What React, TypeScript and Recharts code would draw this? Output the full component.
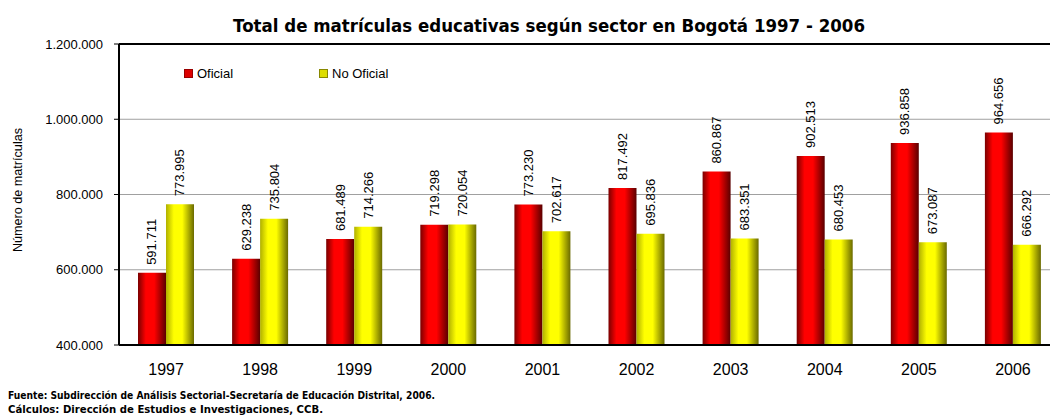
import React from "react";
import {
  BarChart,
  Bar,
  XAxis,
  YAxis,
  CartesianGrid,
  LabelList,
  Legend,
  ReferenceLine,
} from "recharts";

const years = ["1997", "1998", "1999", "2000", "2001", "2002", "2003", "2004", "2005", "2006"];
const oficial = [591711, 629238, 681489, 719298, 773230, 817492, 860867, 902513, 936858, 964656];
const noOficial = [773995, 735804, 714266, 720054, 702617, 695836, 683351, 680453, 673087, 666292];
const yTicks = [400000, 600000, 800000, 1000000, 1200000];
const seriesNames = ["Oficial", "No Oficial"];
const seriesKeys = ["oficial", "noOficial"];
const legendFill: Record<string, string> = { oficial: "#dd0000", noOficial: "#dddd00" };
const legendBorder: Record<string, string> = { oficial: "#990000", noOficial: "#888800" };

const titleText = "Total de matrículas educativas según sector en Bogotá 1997 - 2006";
const yAxisTitle = "Número de matrículas";
const footer1 = "Fuente: Subdirección de Análisis Sectorial-Secretaría de Educación Distrital, 2006.";
const footer2 = "Cálculos: Dirección de Estudios e Investigaciones, CCB.";

const data = years.map((y, i) => ({ year: y, oficial: oficial[i], noOficial: noOficial[i] }));

const fmt = (v: number) => v.toString().replace(/\B(?=(\d{3})+(?!\d))/g, ".");

const FONT = "Arial, 'Liberation Sans', sans-serif";

const ValueLabel = (props: any) => {
  const { x, y, width, value } = props;
  const cx = Number(x) + Number(width) / 2;
  const ty = Number(y) - 8;
  return (
    <text
      x={cx}
      y={ty}
      transform={`rotate(-90, ${cx}, ${ty})`}
      textAnchor="start"
      dominantBaseline="central"
      fontFamily={FONT}
      fontSize={13}
      fill="#000"
    >
      {fmt(Number(value))}
    </text>
  );
};

const LegendContent = (props: any) => {
  const payload = [...(props.payload || [])].sort(
    (a: any, b: any) => seriesKeys.indexOf(a.dataKey) - seriesKeys.indexOf(b.dataKey)
  );
  return (
    <div style={{ display: "flex", fontFamily: FONT, fontSize: 13, color: "#000" }}>
      {payload.map((p: any, i: number) => (
        <div key={i} style={{ display: "flex", alignItems: "center", width: 135 }}>
          <span
            style={{
              display: "inline-block",
              width: 9,
              height: 9,
              background: legendFill[p.dataKey],
              border: "1px solid " + legendBorder[p.dataKey],
              boxSizing: "border-box",
              marginRight: 4,
            }}
          />
          <span>{p.value}</span>
        </div>
      ))}
    </div>
  );
};

export default function App() {
  return (
    <div
      style={{
        position: "fixed",
        left: 0,
        top: 0,
        width: 1050,
        height: 416,
        overflow: "hidden",
        background: "#fff",
      }}
    >
      <BarChart
        width={1060}
        height={416}
        data={data}
        margin={{ top: 44, right: 0, left: 0, bottom: 0 }}
        barCategoryGap={19}
        barGap={0}
      >
        <defs>
          <linearGradient id="gRed" x1="0" y1="0" x2="1" y2="0">
            <stop offset="0%" stopColor="#7a0000" />
            <stop offset="28%" stopColor="#ff0000" />
            <stop offset="58%" stopColor="#ff0000" />
            <stop offset="100%" stopColor="#5a0000" />
          </linearGradient>
          <linearGradient id="gYel" x1="0" y1="0" x2="1" y2="0">
            <stop offset="0%" stopColor="#b0b000" />
            <stop offset="28%" stopColor="#ffff00" />
            <stop offset="58%" stopColor="#ffff00" />
            <stop offset="100%" stopColor="#6a6a00" />
          </linearGradient>
        </defs>
        <CartesianGrid horizontal vertical={false} stroke="#a0a0a0" strokeWidth={1} />
        <ReferenceLine y={1200000} stroke="#000" strokeWidth={2} />
        <XAxis
          dataKey="year"
          height={71}
          axisLine={{ stroke: "#000", strokeWidth: 2 }}
          tickLine={false}
          tickSize={0}
          tickMargin={19}
          tick={{ fontFamily: FONT, fontSize: 16, fill: "#000" }}
          interval={0}
        />
        <YAxis
          width={119}
          domain={[400000, 1200000]}
          ticks={yTicks}
          allowDataOverflow
          axisLine={{ stroke: "#000", strokeWidth: 2 }}
          tickLine={{ stroke: "#000" }}
          tickSize={5}
          tickMargin={11}
          tickFormatter={(v: number) => fmt(v)}
          tick={{ fontFamily: FONT, fontSize: 13, fill: "#000" }}
        />
        <Legend
          layout="horizontal"
          verticalAlign="middle"
          align="center"
          wrapperStyle={{ position: "absolute", top: 66, left: 184, width: 320, height: 18 }}
          content={LegendContent}
        />
        <Bar dataKey="oficial" name={seriesNames[0]} fill="url(#gRed)" isAnimationActive={false}>
          <LabelList dataKey="oficial" content={ValueLabel} />
        </Bar>
        <Bar dataKey="noOficial" name={seriesNames[1]} fill="url(#gYel)" isAnimationActive={false}>
          <LabelList dataKey="noOficial" content={ValueLabel} />
        </Bar>
      </BarChart>
      <svg
        width={1050}
        height={416}
        style={{ position: "absolute", left: 0, top: 0, pointerEvents: "none" }}
      >
        <text
          x={233}
          y={32}
          fontFamily="'DejaVu Sans', sans-serif"
          fontWeight="bold"
          fontSize={17}
          textLength={632}
          lengthAdjust="spacingAndGlyphs"
          fill="#000"
        >
          {titleText}
        </text>
        <text
          x={22}
          y={190}
          transform="rotate(-90, 22, 190)"
          textAnchor="middle"
          fontFamily={FONT}
          fontSize={13}
          textLength={124}
          lengthAdjust="spacingAndGlyphs"
          fill="#000"
        >
          {yAxisTitle}
        </text>
        <text
          x={8}
          y={399}
          fontFamily="'DejaVu Sans', sans-serif"
          fontWeight="bold"
          fontSize={10}
          textLength={427}
          lengthAdjust="spacingAndGlyphs"
          fill="#000"
        >
          {footer1}
        </text>
        <text
          x={8}
          y={413}
          fontFamily="'DejaVu Sans', sans-serif"
          fontWeight="bold"
          fontSize={10}
          textLength={315}
          lengthAdjust="spacingAndGlyphs"
          fill="#000"
        >
          {footer2}
        </text>
      </svg>
    </div>
  );
}
